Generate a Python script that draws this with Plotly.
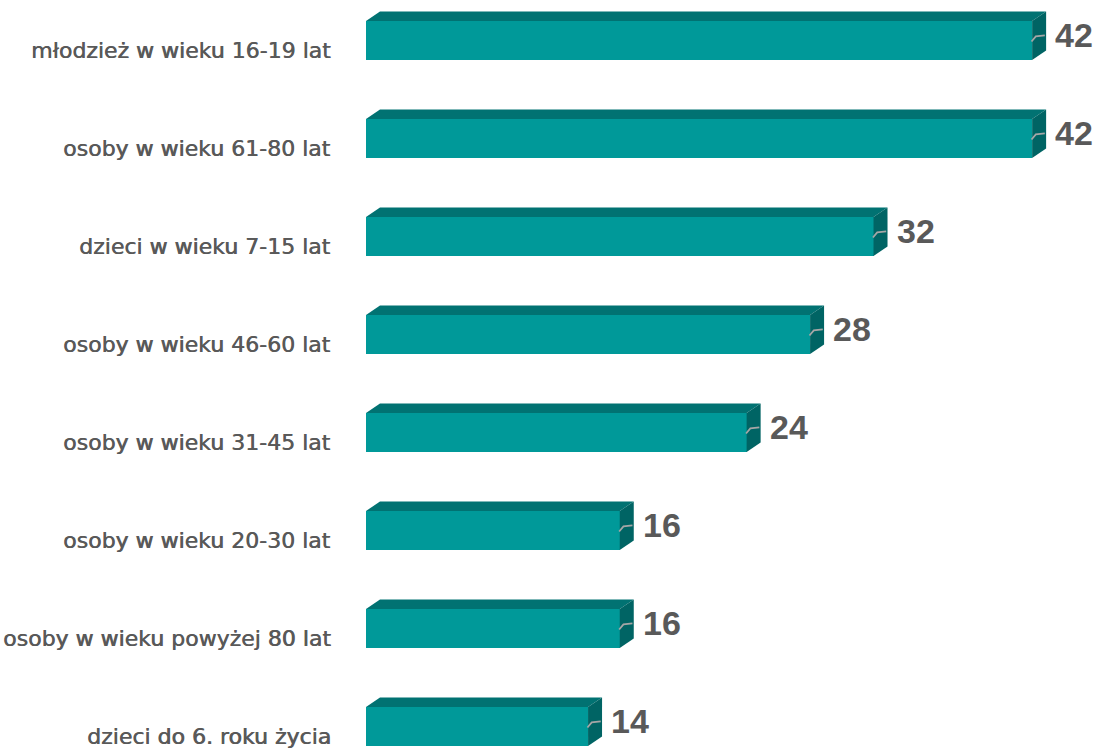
import plotly.graph_objects as go

# Grupy wiekowe i liczba osób w każdej z nich
categories = [
    "młodzież w wieku 16-19 lat",
    "osoby w wieku 61-80 lat",
    "dzieci w wieku 7-15 lat",
    "osoby w wieku 46-60 lat",
    "osoby w wieku 31-45 lat",
    "osoby w wieku 20-30 lat",
    "osoby w wieku powyżej 80 lat",
    "dzieci do 6. roku życia",
]
values = [42, 42, 32, 28, 24, 16, 16, 14]

W, H = 1100, 750
LEFT = 366
X_MAX = 46.28
Y_RANGE = [7.24, -0.413]

# pixel -> data conversions for the pseudo-3D depth of the bars
px_x = (W - LEFT) / X_MAX
px_y = H / (Y_RANGE[0] - Y_RANGE[1])
half = 19.5 / px_y
dx = 14 / px_x
dy = 9.5 / px_y

FRONT = "#009999"
TOP = "#017272"
SIDE = "#006464"
TEXT = "#595959"

pos = list(range(len(categories)))

fig = go.Figure()

# front faces
fig.add_trace(go.Bar(
    x=values, y=pos, orientation="h", width=2 * half,
    marker=dict(color=FRONT, line=dict(width=0)),
    hoverinfo="skip", showlegend=False,
))

# top and side faces
for v, y in zip(values, pos):
    top_x = [0, v, v + dx, dx, 0]
    top_y = [y - half, y - half, y - half - dy, y - half - dy, y - half]
    fig.add_trace(go.Scatter(
        x=top_x, y=top_y, mode="lines", fill="toself", fillcolor=TOP,
        line=dict(width=0, color=TOP), hoverinfo="skip", showlegend=False,
    ))
    side_x = [v, v + dx, v + dx, v, v]
    side_y = [y - half, y - half - dy, y + half - dy, y + half, y - half]
    fig.add_trace(go.Scatter(
        x=side_x, y=side_y, mode="lines", fill="toself", fillcolor=SIDE,
        line=dict(width=0, color=SIDE), hoverinfo="skip", showlegend=False,
    ))
    # leader line from the bar end to its value label
    lx = [v - 0.6 / px_x, v + 3.7 / px_x, v + 12.7 / px_x]
    ly = [y + 1 / px_y, y - 4 / px_y, y - 5 / px_y]
    fig.add_trace(go.Scatter(
        x=lx, y=ly, mode="lines", line=dict(color="#a6a6a6", width=1.8),
        hoverinfo="skip", showlegend=False,
    ))

annotations = []
for v, y, cat in zip(values, pos, categories):
    annotations.append(dict(
        x=v + dx, y=y - 5 / px_y, xref="x", yref="y", text=str(v),
        showarrow=False, xanchor="left", yanchor="middle", xshift=7,
        font=dict(family="Liberation Sans, Arial, sans-serif", size=34,
                  color=TEXT, weight="bold"),
    ))
    annotations.append(dict(
        x=0, y=y + 10 / px_y, xref="x", yref="y", text=cat,
        showarrow=False, xanchor="right", yanchor="middle", xshift=-33,
        font=dict(family="DejaVu Sans, sans-serif", size=22,
                  color=TEXT, shadow="0.6px 0px 0px #595959"),
    ))

fig.update_layout(
    width=W, height=H,
    margin=dict(l=LEFT, r=0, t=0, b=0),
    paper_bgcolor="white", plot_bgcolor="white",
    xaxis=dict(range=[0, X_MAX], visible=False, fixedrange=True),
    yaxis=dict(range=Y_RANGE, visible=False, fixedrange=True),
    annotations=annotations,
    bargap=0,
)

fig.write_html("out.html")
